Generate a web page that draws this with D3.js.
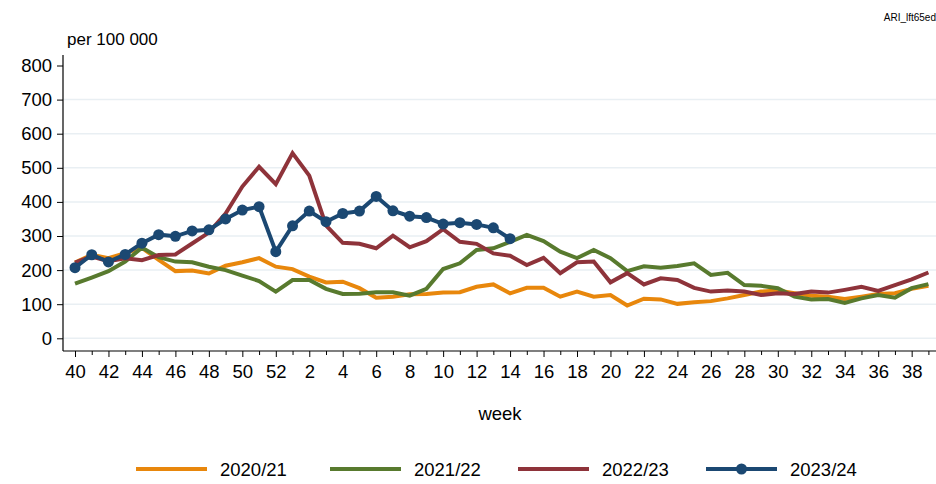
<!DOCTYPE html>
<html>
<head>
<meta charset="utf-8">
<script src="https://cdn.jsdelivr.net/npm/d3@7"></script>
<style>
  html, body { margin: 0; padding: 0; background: #fff; }
  svg { display: block; font-family: "Liberation Sans", Arial, sans-serif; }
</style>
</head>
<body>
<svg id="chart" width="936" height="484"></svg>
<script>
// Surveillance season weeks, week 40 through week 39 of the following year
const weeks = [40,41,42,43,44,45,46,47,48,49,50,51,52,
  1,2,3,4,5,6,7,8,9,10,11,12,13,14,15,16,17,18,19,20,
  21,22,23,24,25,26,27,28,29,30,31,32,33,34,35,36,37,38,39];

// Weekly rates per 100 000, one array per season
const season2020 = [222,245,235,250,265,230,197,199,190,213,223,235,210,
  203,181,164,166,147,119,122,129,130,134,135,151,158,132,148,148,122,137,122,127,
  96,116,114,101,106,109,117,127,137,140,132,125,122,115,122,130,132,145,154];
const season2021 = [160,178,197,225,266,238,225,223,210,200,184,168,137,
  171,171,145,130,131,135,135,125,145,203,220,259,264,283,303,285,254,235,259,235,
  197,211,207,212,220,186,192,156,154,147,122,114,115,104,117,127,119,147,159];
const season2022 = [222,240,226,235,229,244,246,278,310,366,445,503,452,
  543,477,331,280,277,264,301,267,285,320,283,277,249,242,215,236,191,223,225,164,
  191,158,176,171,148,137,140,137,127,132,130,137,134,142,151,139,156,173,193];
const season2023 = [207,245,224,246,279,304,299,315,318,350,376,386,254,
  330,373,342,366,373,416,374,358,354,335,339,334,324,292];

const yTicks = [0,100,200,300,400,500,600,700,800];

const series = [
  { name: "2020/21", values: season2020, color: "#e8870c", markers: false },
  { name: "2021/22", values: season2021, color: "#587a2e", markers: false },
  { name: "2022/23", values: season2022, color: "#8e333a", markers: false },
  { name: "2023/24", values: season2023, color: "#1b4872", markers: true }
];

const svg = d3.select("#chart");

const plotLeft = 63, plotRight = 936, plotTop = 55, plotBottom = 351;

const x = d3.scaleLinear().domain([0, weeks.length - 1]).range([75, 928.4]);
const y = d3.scaleLinear().domain([0, 800]).range([338.3, 65.5]);

// Horizontal gridlines
svg.append("g")
  .selectAll("line")
  .data(yTicks.filter(d => d < 800))
  .join("line")
  .attr("x1", plotLeft).attr("x2", plotRight)
  .attr("y1", d => y(d)).attr("y2", d => y(d))
  .attr("stroke", "#e9eff3")
  .attr("stroke-width", 1.5);

// Y axis
const yAxis = svg.append("g")
  .attr("transform", `translate(${plotLeft},0)`)
  .call(d3.axisLeft(y).tickValues(yTicks).tickSize(6).tickPadding(5).tickFormat(d3.format("d")));
yAxis.select(".domain").remove();
yAxis.selectAll(".tick line").attr("stroke", "#000").attr("stroke-width", 1);
yAxis.selectAll(".tick text")
  .attr("font-size", 18.5)
  .attr("font-family", "Liberation Sans, Arial, sans-serif")
  .attr("fill", "#000");
svg.append("line")
  .attr("x1", plotLeft).attr("x2", plotLeft)
  .attr("y1", plotTop).attr("y2", plotBottom)
  .attr("stroke", "#000").attr("stroke-width", 1.2);

// X axis: labelled ticks on even weeks, short unlabelled ticks on odd weeks
const idx = d3.range(weeks.length);
const majorIdx = idx.filter(i => weeks[i] % 2 === 0);
const minorIdx = idx.filter(i => weeks[i] % 2 !== 0);

const xMinor = svg.append("g")
  .attr("transform", `translate(0,${plotBottom})`)
  .call(d3.axisBottom(x).tickValues(minorIdx).tickSize(4).tickFormat(""));
xMinor.select(".domain").remove();

const xMajor = svg.append("g")
  .attr("transform", `translate(0,${plotBottom})`)
  .call(d3.axisBottom(x).tickValues(majorIdx).tickSize(6).tickPadding(8).tickFormat(i => weeks[i]));
xMajor.select(".domain").remove();
xMajor.selectAll(".tick text")
  .attr("font-size", 18.5)
  .attr("font-family", "Liberation Sans, Arial, sans-serif")
  .attr("fill", "#000");
svg.selectAll(".tick line").attr("stroke", "#000").attr("stroke-width", 1);

svg.append("line")
  .attr("x1", plotLeft).attr("x2", plotRight)
  .attr("y1", plotBottom).attr("y2", plotBottom)
  .attr("stroke", "#000").attr("stroke-width", 1.2);

// Series lines
const line = d3.line().x((d, i) => x(i)).y(d => y(d));

const lines = svg.append("g");
series.forEach(s => {
  lines.append("path")
    .datum(s.values)
    .attr("fill", "none")
    .attr("stroke", s.color)
    .attr("stroke-width", 4)
    .attr("stroke-linejoin", "miter")
    .attr("d", line);
  if (s.markers) {
    lines.append("g")
      .selectAll("circle")
      .data(s.values)
      .join("circle")
      .attr("cx", (d, i) => x(i))
      .attr("cy", d => y(d))
      .attr("r", 5.5)
      .attr("fill", s.color);
  }
});

// Titles and notes
svg.append("text")
  .attr("x", 67).attr("y", 45)
  .attr("font-size", 17)
  .attr("fill", "#000")
  .text("per 100 000");

svg.append("text")
  .attr("x", 936).attr("y", 21)
  .attr("text-anchor", "end")
  .attr("font-size", 10)
  .attr("fill", "#000")
  .text("ARI_lft65ed");

svg.append("text")
  .attr("x", 500).attr("y", 420)
  .attr("text-anchor", "middle")
  .attr("font-size", 18.5)
  .attr("fill", "#000")
  .text("week");

// Legend
const legendY = 469;
const legendX = [136, 330, 518, 706];
const legend = svg.append("g");
series.forEach((s, k) => {
  const g = legend.append("g").attr("transform", `translate(${legendX[k]},${legendY})`);
  g.append("line")
    .attr("x1", 0).attr("x2", 71)
    .attr("y1", 0).attr("y2", 0)
    .attr("stroke", s.color)
    .attr("stroke-width", 4);
  if (s.markers) {
    g.append("circle").attr("cx", 35.5).attr("cy", 0).attr("r", 5.5).attr("fill", s.color);
  }
  g.append("text")
    .attr("x", 84).attr("y", 6.5)
    .attr("font-size", 18.5)
    .attr("fill", "#000")
    .text(s.name);
});
</script>
</body>
</html>
